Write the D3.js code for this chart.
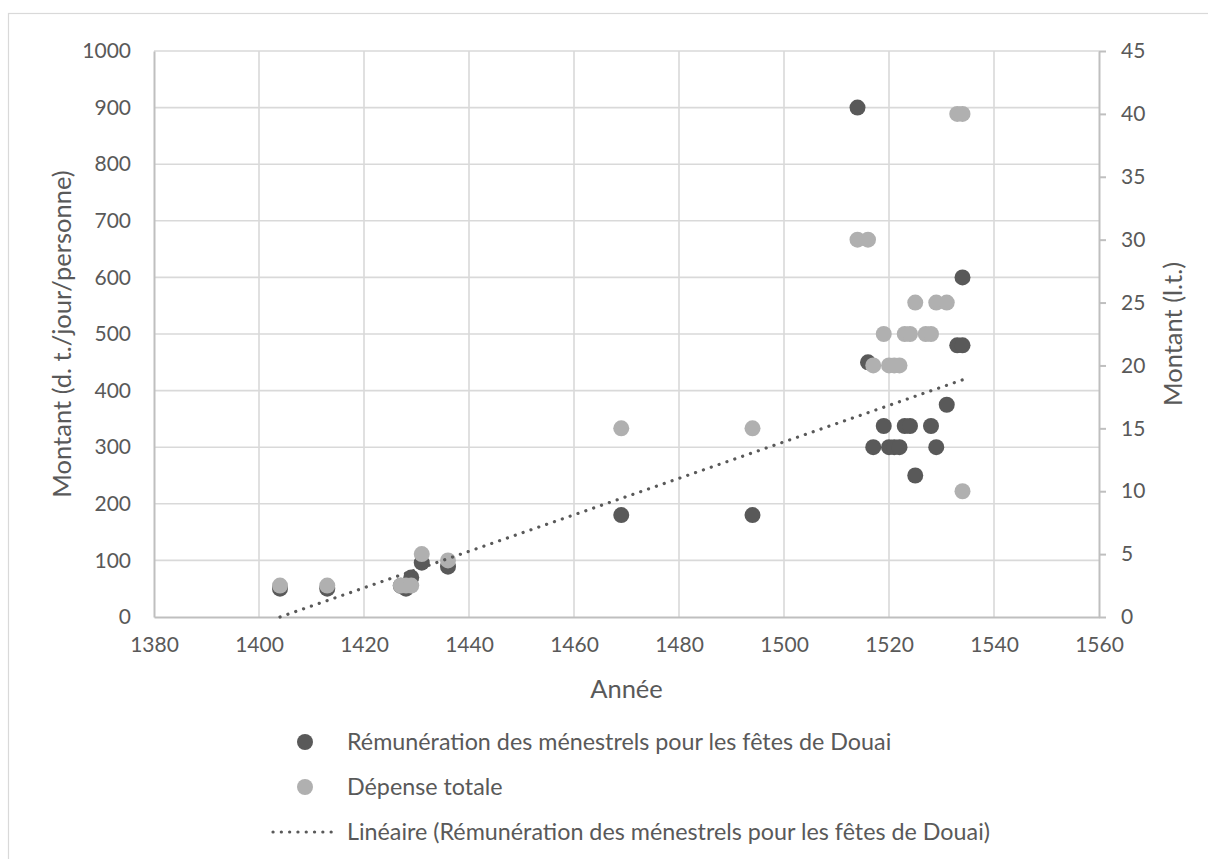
<!DOCTYPE html>
<html>
<head>
<meta charset="utf-8">
<script src="https://cdn.jsdelivr.net/npm/d3@7"></script>
<style>
  body { margin: 0; background: #fff; }
  text { font-family: Lato, "Open Sans", sans-serif; fill: #595959; }
</style>
</head>
<body>
<div id="chart"></div>
<script>
// Rémunération des ménestrels (d. t./jour/personne), left axis
const remunYears = [1404, 1413, 1427, 1428, 1429, 1431, 1436, 1469, 1494, 1514, 1516, 1517, 1519,
  1520, 1521, 1522, 1523, 1524, 1525, 1528, 1529, 1531, 1533, 1534, 1534];
const remunValues = [50, 50, 55, 50, 70, 96, 89, 180, 180, 900, 450, 300, 337.5,
  300, 300, 300, 337.5, 337.5, 250, 337.5, 300, 375, 480, 480, 600];

// Dépense totale (l.t.), right axis
const depenseYears = [1404, 1413, 1427, 1428, 1429, 1431, 1436, 1469, 1494, 1514, 1516, 1517, 1519,
  1520, 1521, 1522, 1523, 1524, 1525, 1527, 1528, 1529, 1531, 1533, 1534, 1534];
const depenseValues = [2.5, 2.5, 2.5, 2.5, 2.5, 5, 4.5, 15, 15, 30, 30, 20, 22.5,
  20, 20, 20, 22.5, 22.5, 25, 22.5, 22.5, 25, 25, 40, 40, 10];

// linear trend of the first series, as drawn
const trendYears = [1404, 1534];
const trendValues = [0, 419];

const xTicks = [1380, 1400, 1420, 1440, 1460, 1480, 1500, 1520, 1540, 1560];
const leftTicks = [0, 100, 200, 300, 400, 500, 600, 700, 800, 900, 1000];
const rightTicks = [0, 5, 10, 15, 20, 25, 30, 35, 40, 45];

const legendLabels = [
  "Rémunération des ménestrels pour les fêtes de Douai",
  "Dépense totale",
  "Linéaire (Rémunération des ménestrels pour les fêtes de Douai)"
];

const width = 1208, height = 859;
const dark = "#595959", light = "#b0b0b0", grid = "#d9d9d9", axisCol = "#bfbfbf";
const plot = { left: 154, right: 1099, top: 51, bottom: 617 };

const svg = d3.select("#chart").append("svg")
  .attr("width", width)
  .attr("height", height);

// chart frame
svg.append("rect")
  .attr("x", 8.5).attr("y", 13.5)
  .attr("width", 1300).attr("height", 900)
  .attr("fill", "#fff")
  .attr("stroke", grid)
  .attr("stroke-width", 1.2);

const x = d3.scaleLinear().domain([1380, 1560]).range([plot.left, plot.right]);
const yL = d3.scaleLinear().domain([0, 1000]).range([plot.bottom, plot.top]);
const yR = d3.scaleLinear().domain([0, 45]).range([plot.bottom, plot.top]);

// gridlines
svg.append("g")
  .selectAll("line.v")
  .data(xTicks.slice(1, -1))
  .enter().append("line")
    .attr("x1", d => x(d)).attr("x2", d => x(d))
    .attr("y1", plot.top).attr("y2", plot.bottom)
    .attr("stroke", grid).attr("stroke-width", 1.6);

svg.append("g")
  .selectAll("line.h")
  .data(leftTicks.slice(1))
  .enter().append("line")
    .attr("x1", plot.left).attr("x2", plot.right)
    .attr("y1", d => yL(d)).attr("y2", d => yL(d))
    .attr("stroke", grid).attr("stroke-width", 1.6);

// x axis
let xAxis = svg.append("g")
  .attr("transform", "translate(0," + plot.bottom + ")")
  .call(d3.axisBottom(x).tickValues(xTicks).tickSize(0).tickPadding(20).tickFormat(d3.format("d")));
xAxis.select(".domain").attr("stroke", axisCol).attr("stroke-width", 2);
xAxis.selectAll("text").style("font-size", "21px").attr("fill", dark);

// left axis
let leftAxis = svg.append("g")
  .attr("transform", "translate(" + plot.left + ",0)")
  .call(d3.axisLeft(yL).tickValues(leftTicks).tickSize(0).tickPadding(23).tickFormat(d3.format("d")));
leftAxis.select(".domain").attr("stroke", axisCol).attr("stroke-width", 2);
leftAxis.selectAll("text").style("font-size", "21px").attr("fill", dark);

// right axis
let rightAxis = svg.append("g")
  .attr("transform", "translate(" + plot.right + ",0)")
  .call(d3.axisRight(yR).tickValues(rightTicks).tickSizeInner(7).tickSizeOuter(0).tickPadding(15));
rightAxis.select(".domain").attr("stroke", axisCol).attr("stroke-width", 2);
rightAxis.selectAll(".tick line").attr("stroke", axisCol).attr("stroke-width", 2);
rightAxis.selectAll("text").style("font-size", "21px").attr("fill", dark);

// axis titles
svg.append("text")
  .attr("x", (plot.left + plot.right) / 2).attr("y", 698)
  .attr("text-anchor", "middle")
  .style("font-size", "25.5px")
  .text("Année");

svg.append("text")
  .attr("transform", "translate(71," + (plot.top + plot.bottom) / 2 + ") rotate(-90)")
  .attr("text-anchor", "middle")
  .style("font-size", "25.5px")
  .text("Montant (d. t./jour/personne)");

svg.append("text")
  .attr("transform", "translate(1182," + (plot.top + plot.bottom) / 2 + ") rotate(-90)")
  .attr("text-anchor", "middle")
  .style("font-size", "25.5px")
  .text("Montant (l.t.)");

// points: first series, then second on top
svg.append("g")
  .selectAll("circle")
  .data(remunYears)
  .enter().append("circle")
    .attr("cx", d => x(d))
    .attr("cy", (d, i) => yL(remunValues[i]))
    .attr("r", 8)
    .attr("fill", dark);

svg.append("g")
  .selectAll("circle")
  .data(depenseYears)
  .enter().append("circle")
    .attr("cx", d => x(d))
    .attr("cy", (d, i) => yR(depenseValues[i]))
    .attr("r", 8)
    .attr("fill", light);

// trend line
let trend = d3.line()
  .x(d => x(d))
  .y((d, i) => yL(trendValues[i]));

svg.append("path")
  .datum(trendYears)
  .attr("d", trend)
  .attr("fill", "none")
  .attr("stroke", dark)
  .attr("stroke-width", 3.2)
  .attr("stroke-linecap", "round")
  .attr("stroke-dasharray", "0.1 8.2");

// legend
const legendY = [742, 787, 832];
let legend = svg.append("g");

legend.append("circle").attr("cx", 305).attr("cy", legendY[0]).attr("r", 8).attr("fill", dark);
legend.append("circle").attr("cx", 305).attr("cy", legendY[1]).attr("r", 8).attr("fill", light);
legend.append("line")
  .attr("x1", 273).attr("x2", 339)
  .attr("y1", legendY[2]).attr("y2", legendY[2])
  .attr("stroke", dark)
  .attr("stroke-width", 3.2)
  .attr("stroke-linecap", "round")
  .attr("stroke-dasharray", "0.1 8.2");

legend.selectAll("text")
  .data(legendLabels)
  .enter().append("text")
    .attr("x", 347)
    .attr("y", (d, i) => legendY[i])
    .attr("dy", "0.35em")
    .style("font-size", "23.3px")
    .text(d => d);
</script>
</body>
</html>
